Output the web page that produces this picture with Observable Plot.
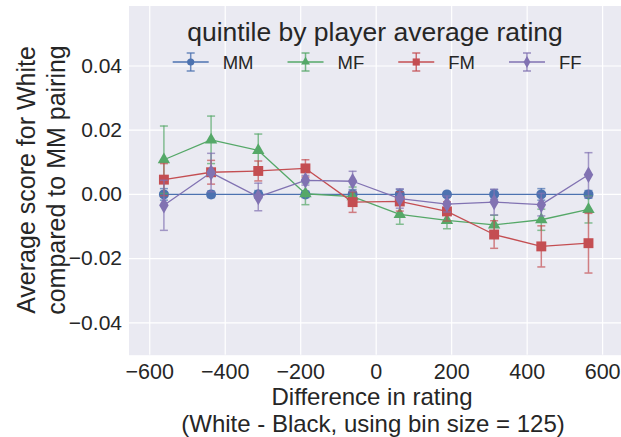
<!DOCTYPE html>
<html><head><meta charset="utf-8">
<script src="https://cdn.jsdelivr.net/npm/d3@7"></script>
<script src="https://cdn.jsdelivr.net/npm/@observablehq/plot@0.6"></script>
<style>
body{margin:0;background:#fff;}
#wrap{position:relative;width:621px;height:437px;overflow:hidden;font-family:"Liberation Sans",Arial,sans-serif;color:#262626;}
#wrap svg{position:absolute;left:0;top:0;}
</style></head><body><div id="wrap"></div>
<script>
// ---- data ----
const bins = [-562.5, -437.5, -312.5, -187.5, -62.5, 62.5, 187.5, 312.5, 437.5, 562.5];
const groups = ["MM", "MF", "FM", "FF"];
const colors = ["#4C72B0", "#55A868", "#C44E52", "#8172B2"];
const mmVals = [0, 0, 0, 0, 0, 0, 0, 0, 0, 0];
const mmErr  = [0.0018, 0.0010, 0.0012, 0.0010, 0.0015, 0.0016, 0.0008, 0.0015, 0.0018, 0.0012];
const mfVals = [0.0108, 0.0170, 0.0137, 0.0002, -0.0007, -0.0062, -0.0081, -0.0095, -0.0079, -0.0047];
const mfErr  = [0.0105, 0.0074, 0.0051, 0.0034, 0.0030, 0.0031, 0.0026, 0.0030, 0.0033, 0.0042];
const fmVals = [0.0046, 0.0069, 0.0073, 0.0081, -0.0024, -0.0022, -0.0053, -0.0125, -0.0162, -0.0152];
const fmErr  = [0.0050, 0.0037, 0.0031, 0.0027, 0.0032, 0.0030, 0.0030, 0.0043, 0.0064, 0.0093];
const ffVals = [-0.0034, 0.0068, -0.0008, 0.0044, 0.0041, -0.0013, -0.0030, -0.0024, -0.0032, 0.0061];
const ffErr  = [0.0078, 0.0060, 0.0043, 0.0015, 0.0031, 0.0030, 0.0025, 0.0040, 0.0035, 0.0069];
const xTicks = [-600, -400, -200, 0, 200, 400, 600];
const yTicks = [-0.04, -0.02, 0.00, 0.02, 0.04];
const legendTitle = "quintile by player average rating";
const xLabel = ["Difference in rating", "(White - Black, using bin size = 125)"];
const yLabel = ["Average score for White", "compared to MM pairing"];

const vals = [mmVals, mfVals, fmVals, ffVals];
const errs = [mmErr, mfErr, fmErr, ffErr];
const symbols = ["circle", "triangle", "square", "diamond"];
const radii = [5.0, 4.6, 5.6, 5.0];

const capSym = {draw(ctx, size) { const r = Math.sqrt(size / Math.PI); ctx.moveTo(-r, 0); ctx.lineTo(r, 0); }};

const marks = [
  Plot.frame({fill: "#EAEAF2", stroke: "none"}),
  Plot.gridX(xTicks, {stroke: "white", strokeOpacity: 1, strokeWidth: 1.2}),
  Plot.gridY(yTicks, {stroke: "white", strokeOpacity: 1, strokeWidth: 1.2}),
  Plot.axisX({ticks: xTicks, tickSize: 0, tickPadding: 8.5, tickFormat: d3.format("d"), label: null, fontSize: 21.5}),
  Plot.axisY({ticks: yTicks, tickSize: 0, tickPadding: 7, tickFormat: d3.format(".2f"), label: null, fontSize: 21})
];

groups.forEach((g, k) => {
  const data = bins.map((x, i) => ({x, y: vals[k][i], e: errs[k][i]}));
  const c = colors[k];
  marks.push(Plot.ruleX(data, {x: "x", y1: d => d.y - d.e, y2: d => d.y + d.e, stroke: c, strokeWidth: 1.5, strokeOpacity: 0.7}));
  marks.push(Plot.dot(data, {x: "x", y: d => d.y + d.e, symbol: capSym, r: 4, stroke: c, fill: "none", strokeWidth: 1.5, strokeOpacity: 0.7}));
  marks.push(Plot.dot(data, {x: "x", y: d => d.y - d.e, symbol: capSym, r: 4, stroke: c, fill: "none", strokeWidth: 1.5, strokeOpacity: 0.7}));
  marks.push(Plot.line(data, {x: "x", y: "y", stroke: c, strokeWidth: 1.3}));
  marks.push(Plot.dot(data, {x: "x", y: "y", symbol: symbols[k], r: radii[k], fill: c, stroke: "none"}));
});

const chart = Plot.plot({
  width: 621, height: 437,
  marginLeft: 128.5, marginRight: 0, marginTop: 5.5, marginBottom: 82.3,
  x: {domain: [-655, 650]},
  y: {domain: [-0.0501, 0.0587]},
  style: {fontFamily: "'Liberation Sans', Arial, sans-serif", fontSize: "21px", color: "#262626", background: "transparent", overflow: "visible"},
  marks
});
const wrap = document.getElementById("wrap");
wrap.appendChild(chart);

// ---- overlay: labels and legend ----
const ov = d3.select(wrap).append("svg").attr("width", 621).attr("height", 437)
  .style("font-family", "'Liberation Sans', Arial, sans-serif").style("pointer-events", "none");
const ink = "#262626";
// x label
ov.append("text").attr("x", 372).attr("y", 405).attr("text-anchor", "middle").attr("font-size", 24).attr("fill", ink).text(xLabel[0]);
ov.append("text").attr("x", 373).attr("y", 432).attr("text-anchor", "middle").attr("font-size", 24).attr("fill", ink).text(xLabel[1]);
// y label
ov.append("text").attr("transform", "translate(35,180) rotate(-90)").attr("text-anchor", "middle").attr("font-size", 25).attr("fill", ink).text(yLabel[0]);
ov.append("text").attr("transform", "translate(65,180) rotate(-90)").attr("text-anchor", "middle").attr("font-size", 25).attr("fill", ink).text(yLabel[1]);
// legend title
ov.append("text").attr("x", 375).attr("y", 41).attr("text-anchor", "middle").attr("font-size", 26.5).attr("fill", ink).text(legendTitle);
// legend entries
const d3sym = {circle: d3.symbolCircle, triangle: d3.symbolTriangle, square: d3.symbolSquare, diamond: d3.symbolDiamond};
const cy = 62;
let xpos = 172.7;
groups.forEach((g, k) => {
  const c = colors[k];
  const gg = ov.append("g").attr("transform", `translate(${xpos},${cy})`);
  gg.append("line").attr("x1", 0).attr("x2", 36).attr("y1", 0).attr("y2", 0).attr("stroke", c).attr("stroke-width", 1.3);
  gg.append("line").attr("x1", 18).attr("x2", 18).attr("y1", -9).attr("y2", 9).attr("stroke", c).attr("stroke-width", 1.5).attr("stroke-opacity", 0.8);
  gg.append("line").attr("x1", 14).attr("x2", 22).attr("y1", -9).attr("y2", -9).attr("stroke", c).attr("stroke-width", 1.5).attr("stroke-opacity", 0.8);
  gg.append("line").attr("x1", 14).attr("x2", 22).attr("y1", 9).attr("y2", 9).attr("stroke", c).attr("stroke-width", 1.5).attr("stroke-opacity", 0.8);
  const r = radii[k] * 0.72;
  gg.append("path").attr("transform", "translate(18,0)").attr("d", d3.symbol(d3sym[symbols[k]], Math.PI * r * r)()).attr("fill", c);
  const t = gg.append("text").attr("x", 50).attr("y", 6.5).attr("font-size", 18.5).attr("fill", ink).text(g);
  const w = t.node().getComputedTextLength();
  xpos += 50 + w + 34;
});
</script>
</body></html>
